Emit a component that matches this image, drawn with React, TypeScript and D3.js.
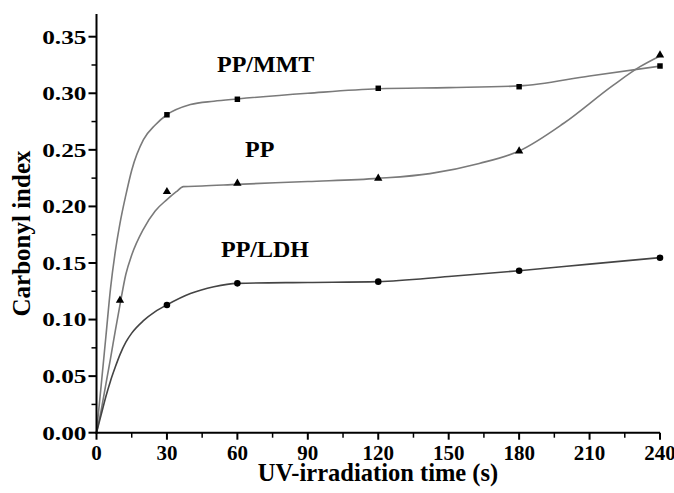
import React from 'react';
import * as d3 from 'd3';

const xTicks = [0, 30, 60, 90, 120, 150, 180, 210, 240];
const xMinorTicks = [15, 45, 75, 105, 135, 165, 195, 225];
const yTicks = [0, 0.05, 0.1, 0.15, 0.2, 0.25, 0.3, 0.35];
const yMinorTicks = [0.025, 0.075, 0.125, 0.175, 0.225, 0.275, 0.325];

// measured markers
const mmtTime = [30, 60, 120, 180, 240];
const mmtValue = [0.281, 0.2947, 0.3044, 0.3058, 0.3241];
const ppTime = [10, 30, 60, 120, 180, 240];
const ppValue = [0.117, 0.213, 0.2204, 0.2248, 0.249, 0.3338];
const ldhTime = [30, 60, 120, 180, 240];
const ldhValue = [0.1129, 0.132, 0.1335, 0.1432, 0.1547];

// smoothed (fitted) curves
const mmtCurveTime = [0, 2, 4, 6, 8, 10, 12.5, 15, 20, 25, 30, 40, 50, 60, 90, 120, 150, 180, 210, 240];
const mmtCurveValue = [0, 0.042, 0.085, 0.128, 0.16, 0.185, 0.21, 0.232, 0.259, 0.272, 0.281, 0.29, 0.293, 0.295, 0.3, 0.304, 0.305, 0.3065, 0.3153, 0.324];
const ppCurveTime = [0, 2, 4, 6, 8, 10, 12.5, 15, 20, 25, 30, 34, 37, 45, 60, 90, 120, 142, 163, 180, 199, 220, 231.5, 240];
const ppCurveValue = [0, 0.02, 0.043, 0.066, 0.09, 0.113, 0.14, 0.157, 0.18, 0.196, 0.206, 0.213, 0.2175, 0.218, 0.2195, 0.222, 0.2248, 0.229, 0.238, 0.249, 0.2735, 0.307, 0.3235, 0.333];
const ldhCurveTime = [0, 2, 4, 6, 8, 10, 12.5, 15, 20, 25, 30, 40, 50, 60, 90, 120, 150, 180, 210, 240];
const ldhCurveValue = [0, 0.016, 0.032, 0.046, 0.058, 0.069, 0.08, 0.088, 0.099, 0.107, 0.113, 0.123, 0.129, 0.132, 0.1328, 0.1335, 0.138, 0.1432, 0.149, 0.1547];

const FONT = '"Liberation Serif", "Times New Roman", Times, serif';

export default function App() {
  const x = d3.scaleLinear().domain([0, 240]).range([96.5, 660]);
  const y = d3.scaleLinear().domain([0, 0.35]).range([432.7, 36.7]);
  const yTop = y(0.37);

  const line = (ts: number[], vs: number[]) =>
    d3
      .line<number>()
      .x((_, i) => x(ts[i]))
      .y((v) => y(v))
      .curve(d3.curveMonotoneX)(vs) || '';

  const tri = d3.symbol().type(d3.symbolTriangle).size(30)() || '';
  const sq = d3.symbol().type(d3.symbolSquare).size(30)() || '';
  const circ = d3.symbol().type(d3.symbolCircle).size(34)() || '';

  return (
    <svg
      width={674}
      height={493}
      style={{ position: 'absolute', left: 0, top: 0, background: '#fff' }}
      fontFamily={FONT}
      fontWeight="bold"
    >
      <rect x={0} y={0} width={674} height={493} fill="#fff" />
      {/* curves */}
      <path d={line(mmtCurveTime, mmtCurveValue)} fill="none" stroke="#7a7a7a" strokeWidth={1.6} />
      <path d={line(ppCurveTime, ppCurveValue)} fill="none" stroke="#7a7a7a" strokeWidth={1.6} />
      <path d={line(ldhCurveTime, ldhCurveValue)} fill="none" stroke="#444" strokeWidth={1.6} />

      {/* markers */}
      {mmtTime.map((t, i) => (
        <path key={'m' + i} d={sq} transform={`translate(${x(t)},${y(mmtValue[i])})`} fill="#000" />
      ))}
      {ppTime.map((t, i) => (
        <path key={'p' + i} d={tri} transform={`translate(${x(t)},${y(ppValue[i])})`} fill="#000" />
      ))}
      {ldhTime.map((t, i) => (
        <path key={'l' + i} d={circ} transform={`translate(${x(t)},${y(ldhValue[i])})`} fill="#000" />
      ))}

      {/* axes */}
      <line x1={x(0)} x2={x(0)} y1={yTop} y2={y(0) + 1} stroke="#000" strokeWidth={2} />
      <line x1={x(0) - 1} x2={x(240)} y1={y(0)} y2={y(0)} stroke="#000" strokeWidth={2} />
      {yTicks.map((v) => (
        <g key={'yt' + v}>
          <line x1={x(0) - 8} x2={x(0)} y1={y(v)} y2={y(v)} stroke="#000" strokeWidth={2} />
          <text
            transform={`translate(${x(0) - 10},${y(v) + 6.8}) scale(1.3,1)`}
            textAnchor="end"
            fontSize={19.5}
            fill="#000"
          >
            {v.toFixed(2)}
          </text>
        </g>
      ))}
      {yMinorTicks.map((v) => (
        <line key={'ym' + v} x1={x(0) - 5} x2={x(0)} y1={y(v)} y2={y(v)} stroke="#000" strokeWidth={1.5} />
      ))}
      {xTicks.map((t) => (
        <g key={'xt' + t}>
          <line x1={x(t)} x2={x(t)} y1={y(0)} y2={y(0) + 7} stroke="#000" strokeWidth={2} />
          <text x={x(t)} y={459.5} textAnchor="middle" fontSize={21} fill="#000">
            {t}
          </text>
        </g>
      ))}
      {xMinorTicks.map((t) => (
        <line key={'xm' + t} x1={x(t)} x2={x(t)} y1={y(0)} y2={y(0) + 5} stroke="#000" strokeWidth={1.5} />
      ))}

      {/* axis titles */}
      <text x={378} y={481} textAnchor="middle" fontSize={24.5} fill="#000">
        UV-irradiation time (s)
      </text>
      <text transform="translate(30,233.5) rotate(-90)" textAnchor="middle" fontSize={25} fill="#000">
        Carbonyl index
      </text>

      {/* series labels */}
      <text x={217} y={72} fontSize={24} fill="#000">PP/MMT</text>
      <text x={245} y={157} fontSize={24} fill="#000">PP</text>
      <text x={221} y={256.5} fontSize={24} fill="#000">PP/LDH</text>
    </svg>
  );
}
